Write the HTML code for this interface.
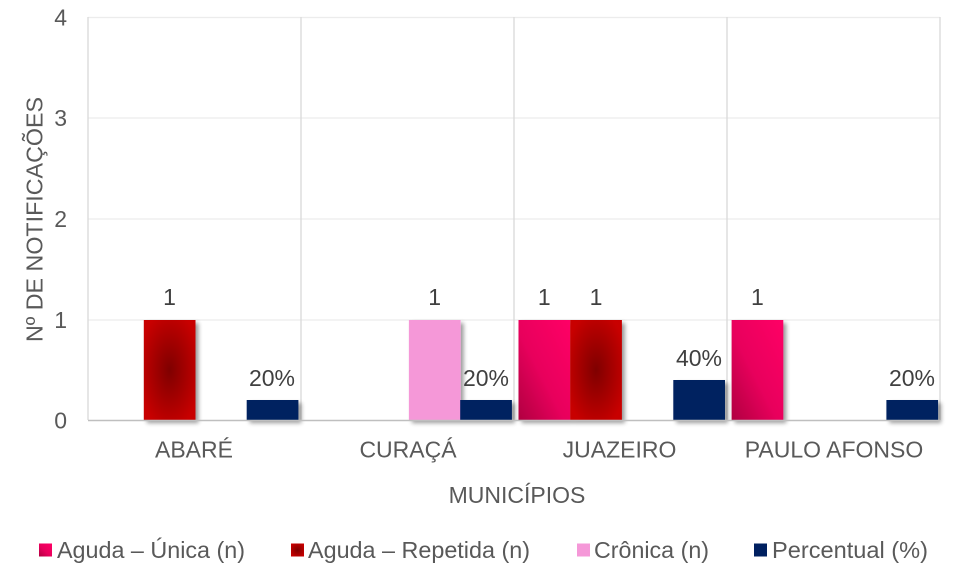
<!DOCTYPE html>
<html><head><meta charset="utf-8"><style>
html,body{margin:0;padding:0;background:#fff;}
svg{display:block;font-family:"Liberation Sans",Arial,sans-serif;}
</style></head><body>
<svg width="955" height="572" viewBox="0 0 955 572" xmlns="http://www.w3.org/2000/svg">
<defs>
<radialGradient id="red" cx="50%" cy="50%" r="60%">
<stop offset="0" stop-color="#7f0000"/><stop offset="1" stop-color="#c80000"/>
</radialGradient>
<linearGradient id="pink" x1="1" y1="0" x2="0" y2="1">
<stop offset="0" stop-color="#ff0066"/><stop offset="0.55" stop-color="#e8005c"/><stop offset="1" stop-color="#b00040"/>
</linearGradient>
<filter id="sh" x="-20%" y="-20%" width="150%" height="150%">
<feGaussianBlur in="SourceAlpha" stdDeviation="2.2"/>
<feOffset dx="3" dy="3" result="o"/>
<feComponentTransfer><feFuncA type="linear" slope="0.4"/></feComponentTransfer>
<feMerge><feMergeNode/><feMergeNode in="SourceGraphic"/></feMerge>
</filter>
</defs>
<!-- gridlines -->
<g stroke="#ececec" stroke-width="1.2">
<line x1="88" y1="17.5" x2="940" y2="17.5"/>
<line x1="88" y1="118" x2="940" y2="118"/>
<line x1="88" y1="219" x2="940" y2="219"/>
<line x1="88" y1="320" x2="940" y2="320"/>
</g>
<g stroke="#d9d9d9" stroke-width="1.3">
<line x1="88" y1="17" x2="88" y2="420"/>
<line x1="301" y1="17" x2="301" y2="420"/>
<line x1="514" y1="17" x2="514" y2="420"/>
<line x1="727" y1="17" x2="727" y2="420"/>
<line x1="940" y1="17" x2="940" y2="420"/>
</g>
<!-- bars -->
<g filter="url(#sh)">
<rect x="143.8" y="320" width="51.7" height="100" fill="url(#red)"/>
<rect x="246.7" y="400" width="51.7" height="20" fill="#002060"/>
<rect x="408.9" y="320" width="51.7" height="100" fill="#f598d8"/>
<rect x="460.2" y="400" width="51.7" height="20" fill="#002060"/>
<rect x="518.5" y="320" width="51.7" height="100" fill="url(#pink)"/>
<rect x="570.2" y="320" width="51.7" height="100" fill="url(#red)"/>
<rect x="673.3" y="380" width="51.7" height="40" fill="#002060"/>
<rect x="731.6" y="320" width="51.7" height="100" fill="url(#pink)"/>
<rect x="886.4" y="400" width="51.7" height="20" fill="#002060"/>
</g>
<line x1="88" y1="420.5" x2="940" y2="420.5" stroke="#bfbfbf" stroke-width="1.6"/>
<!-- y ticks -->
<g fill="#595959" font-size="23" text-anchor="end">
<text x="67" y="25.5">4</text>
<text x="67" y="126">3</text>
<text x="67" y="227">2</text>
<text x="67" y="328">1</text>
<text x="67" y="428.5">0</text>
</g>
<text transform="translate(42.5,219.5) rotate(-90)" text-anchor="middle" fill="#595959" font-size="23" textLength="245" lengthAdjust="spacingAndGlyphs">Nº DE NOTIFICAÇÕES</text>
<!-- data labels -->
<g fill="#404040" font-size="23" text-anchor="middle">
<text x="169.5" y="305">1</text>
<text x="272" y="386">20%</text>
<text x="434.7" y="305">1</text>
<text x="486" y="386">20%</text>
<text x="544.3" y="305">1</text>
<text x="596" y="305">1</text>
<text x="699" y="366">40%</text>
<text x="757.4" y="305">1</text>
<text x="912" y="386">20%</text>
</g>
<!-- category labels -->
<g fill="#595959" font-size="23" text-anchor="middle">
<text x="194" y="457.5">ABARÉ</text>
<text x="408" y="457.5">CURAÇÁ</text>
<text x="619.5" y="457.5">JUAZEIRO</text>
<text x="834" y="457.5">PAULO AFONSO</text>
<text x="517" y="503">MUNICÍPIOS</text>
</g>
<!-- legend -->
<rect x="39" y="543.5" width="13" height="13" fill="url(#pink)"/>
<rect x="291" y="543.5" width="13" height="13" fill="url(#red)"/>
<rect x="577" y="543.5" width="13" height="13" fill="#f598d8"/>
<rect x="754" y="543.5" width="13" height="13" fill="#002060"/>
<g fill="#595959" font-size="23">
<text x="57" y="558" textLength="188" lengthAdjust="spacingAndGlyphs">Aguda – Única (n)</text>
<text x="308" y="558" textLength="222" lengthAdjust="spacingAndGlyphs">Aguda – Repetida (n)</text>
<text x="594" y="558" textLength="115" lengthAdjust="spacingAndGlyphs">Crônica (n)</text>
<text x="772" y="558" textLength="156" lengthAdjust="spacingAndGlyphs">Percentual (%)</text>
</g>
</svg>
</body></html>
